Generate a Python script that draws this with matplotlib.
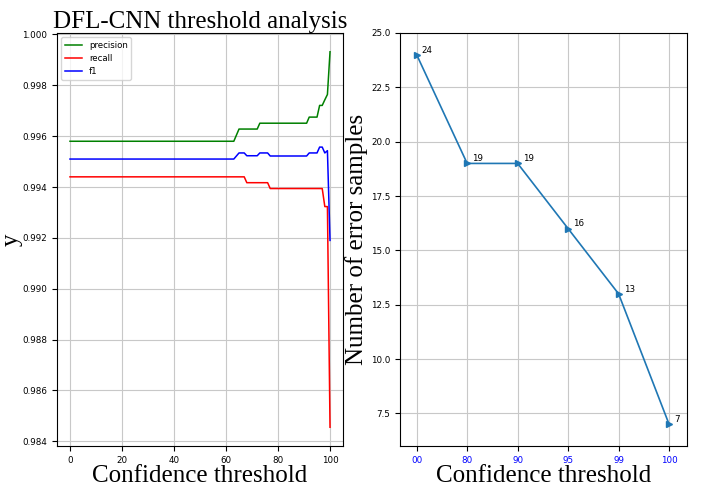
import matplotlib
matplotlib.use("Agg")
import matplotlib.pyplot as plt
import numpy as np

# left panel: metrics vs confidence threshold (0..100)
thresholds = list(range(0, 101))
precision = ([0.99580] * 64 + [0.99604] + [0.99628] * 8 + [0.99651] * 19
             + [0.99675] * 4 + [0.99721] * 2 + [0.99743, 0.99764, 0.99932])
recall = ([0.99440] * 68 + [0.99417] * 9 + [0.99394] * 21
          + [0.99323] * 2 + [0.98455])
f1 = ([0.99510] * 64 + [0.99522] + [0.99534] * 3 + [0.99523] * 5
      + [0.99534] * 4 + [0.99522] * 15 + [0.99534] * 4
      + [0.99557, 0.99557, 0.99534, 0.99543, 0.99190])

# right panel: error samples per threshold
thr_labels = ['00', '80', '90', '95', '99', '100']
errors = [24, 19, 19, 16, 13, 7]

serif = 'Liberation Serif'
plt.rcParams['font.size'] = 6

fig = plt.figure(figsize=(7.08, 4.91), dpi=100)

ax1 = fig.add_axes([0.0805, 0.0916, 0.404, 0.8412])
ax1.plot(thresholds, precision, color='green', lw=1.1, label='precision')
ax1.plot(thresholds, recall, color='red', lw=1.1, label='recall')
ax1.plot(thresholds, f1, color='blue', lw=1.1, label='f1')
ax1.grid(True, color='#c8c8c8', lw=0.8)
ax1.legend(loc='upper left', fontsize=6.2)
ax1.set_title('DFL-CNN threshold analysis', fontname=serif, fontsize=18, pad=3)
ax1.set_xlabel('Confidence threshold', fontname=serif, fontsize=18, labelpad=0)
ax1.set_ylabel('y', fontname=serif, fontsize=18, labelpad=0)
ax1.tick_params(labelsize=6.3)

ax2 = fig.add_axes([0.565, 0.0916, 0.405, 0.8412])
pos = np.arange(len(thr_labels))
ax2.plot(pos, errors, marker='>', markersize=4, lw=1.2, color='tab:blue')
for a, b in zip(pos, errors):
    ax2.text(a + 0.1, b + 0.1, str(b), fontsize=6.3)
ax2.set_xticks(pos)
ax2.set_xticklabels(thr_labels, color='blue')
ax2.set_xlim(-0.33, 5.35)
ax2.set_ylim(6.0, 25.0)
ax2.grid(True, color='#c8c8c8', lw=0.8)
ax2.set_xlabel('Confidence threshold', fontname=serif, fontsize=18, labelpad=0)
ax2.set_ylabel('Number of error samples', fontname=serif, fontsize=18, labelpad=2)
ax2.tick_params(labelsize=6.3)

fig.savefig('out.png', dpi=100)
